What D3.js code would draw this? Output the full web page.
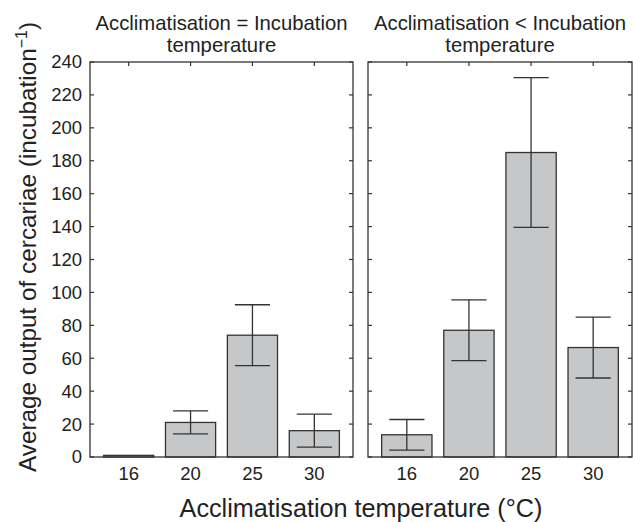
<!DOCTYPE html>
<html>
<head>
<meta charset="utf-8">
<script src="https://cdn.jsdelivr.net/npm/d3@7"></script>
<style>
  body { margin: 0; background: #fff; }
  text { font-family: "Liberation Sans", Arial, sans-serif; fill: #222; }
</style>
</head>
<body>
<div id="chart"></div>
<script>
// ---- data ----
var temps = ["16", "20", "25", "30"];
var yTickValues = [0, 20, 40, 60, 80, 100, 120, 140, 160, 180, 200, 220, 240];
var titleEqual = ["Acclimatisation = Incubation", "temperature"];
var titleLess = ["Acclimatisation < Incubation", "temperature"];
var meanEqual = [1, 21, 74, 16];
var errEqual = [0, 7, 18.5, 10];
var meanLess = [13.5, 77, 185, 66.5];
var errLess = [9.3, 18.5, 45.5, 18.5];

var W = 633, H = 522;
var plotTop = 62, plotBottom = 457;
var ink = "#333";

var svg = d3.select("#chart").append("svg")
    .attr("width", W).attr("height", H);

var y = d3.scaleLinear().domain([0, 240]).range([plotBottom, plotTop]);

var panels = [
  { x0: 90, x1: 353, title: titleEqual, mean: meanEqual, err: errEqual, labels: true },
  { x0: 368, x1: 632, title: titleLess, mean: meanLess, err: errLess, labels: false }
];

panels.forEach(function(p) {
  var x = d3.scaleBand().domain(temps).range([p.x0, p.x1])
      .paddingInner(0.19).paddingOuter(0.22);
  var g = svg.append("g");

  // panel title (two lines)
  g.append("text")
      .attr("x", (p.x0 + p.x1) / 2).attr("y", 30)
      .attr("text-anchor", "middle").style("font-size", "20.3px")
      .selectAll("tspan").data(p.title).enter().append("tspan")
      .attr("x", (p.x0 + p.x1) / 2)
      .attr("dy", function(d, i) { return i ? 22 : 0; })
      .text(function(d) { return d; });

  // ticks inside the frame
  var ax = g.append("g").attr("stroke", ink).attr("stroke-width", 1.2);
  ax.selectAll(".yl").data(yTickValues).enter().append("line")
      .attr("x1", p.x0).attr("x2", p.x0 + 4)
      .attr("y1", function(d) { return y(d); }).attr("y2", function(d) { return y(d); });
  ax.selectAll(".yr").data(yTickValues).enter().append("line")
      .attr("x1", p.x1).attr("x2", p.x1 - 4)
      .attr("y1", function(d) { return y(d); }).attr("y2", function(d) { return y(d); });
  ax.selectAll(".xt").data(temps).enter().append("line")
      .attr("x1", function(d) { return x(d) + x.bandwidth() / 2; })
      .attr("x2", function(d) { return x(d) + x.bandwidth() / 2; })
      .attr("y1", plotTop).attr("y2", plotTop + 4);

  // bars
  g.selectAll(".bar").data(p.mean).enter().append("rect")
      .attr("x", function(d, i) { return x(temps[i]); })
      .attr("width", x.bandwidth())
      .attr("y", function(d) { return y(d); })
      .attr("height", function(d) { return y(0) - y(d); })
      .attr("fill", "#c6c7c9")
      .attr("stroke", ink).attr("stroke-width", 1.3);

  // error bars
  var capW = x.bandwidth() * 0.7;
  var eb = g.append("g").attr("stroke", ink).attr("stroke-width", 1.3);
  p.mean.forEach(function(m, i) {
    if (!p.err[i]) return;
    var cx = x(temps[i]) + x.bandwidth() / 2;
    var hi = y(m + p.err[i]), lo = y(m - p.err[i]);
    eb.append("line").attr("x1", cx).attr("x2", cx).attr("y1", hi).attr("y2", lo);
    eb.append("line").attr("x1", cx - capW / 2).attr("x2", cx + capW / 2).attr("y1", hi).attr("y2", hi);
    eb.append("line").attr("x1", cx - capW / 2).attr("x2", cx + capW / 2).attr("y1", lo).attr("y2", lo);
  });

  // frame
  g.append("rect")
      .attr("x", p.x0).attr("y", plotTop)
      .attr("width", p.x1 - p.x0).attr("height", plotBottom - plotTop)
      .attr("fill", "none").attr("stroke", ink).attr("stroke-width", 1.3);

  // x tick labels
  g.selectAll(".xl").data(temps).enter().append("text")
      .attr("x", function(d) { return x(d) + x.bandwidth() / 2; })
      .attr("y", 480)
      .attr("text-anchor", "middle").style("font-size", "18.5px")
      .text(function(d) { return d; });

  // y tick labels (left panel only)
  if (p.labels) {
    g.selectAll(".ylab").data(yTickValues).enter().append("text")
        .attr("x", p.x0 - 8)
        .attr("y", function(d) { return y(d); })
        .attr("dy", "0.35em")
        .attr("text-anchor", "end").style("font-size", "18.5px")
        .text(function(d) { return d; });
  }
});

// axis titles
svg.append("text")
    .attr("x", 361).attr("y", 517)
    .attr("text-anchor", "middle").style("font-size", "25.2px")
    .text("Acclimatisation temperature (°C)");

var yl = svg.append("text")
    .attr("transform", "translate(36,247) rotate(-90)")
    .attr("text-anchor", "middle").style("font-size", "24.3px");
yl.append("tspan").text("Average output of cercariae (incubation");
yl.append("tspan").attr("dy", -9).style("font-size", "16px").text("−1");
yl.append("tspan").attr("dy", 9).text(")");
</script>
</body>
</html>
